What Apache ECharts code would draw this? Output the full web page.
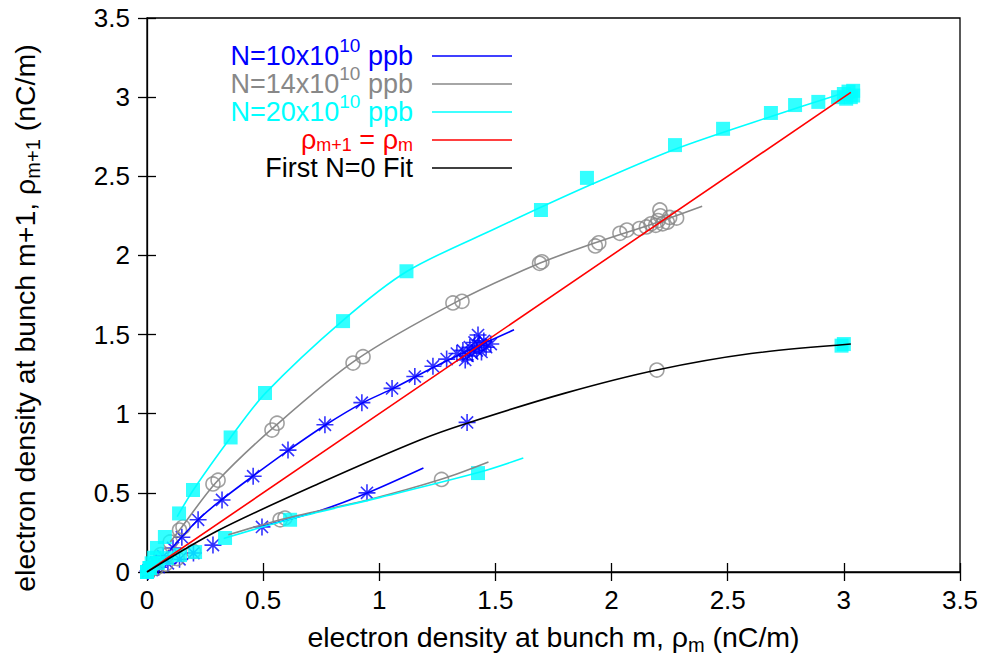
<!DOCTYPE html>
<html><head><meta charset="utf-8">
<script src="https://cdn.jsdelivr.net/npm/echarts@6/dist/echarts.min.js"></script>
<style>html,body{margin:0;padding:0;background:#fff}#c{width:987px;height:661px}</style>
</head><body><div id="c"></div><script>
// ---- tick labels ----
const xTickLabels = ['0','0.5','1','1.5','2','2.5','3','3.5'];
const yTickLabels = ['0','0.5','1','1.5','2','2.5','3','3.5'];

// ---- measured points [rho_m, rho_m+1] ----
const n10UpperPts = [[0.005,0.008],[0.02,0.03],[0.04,0.06],[0.07,0.1],[0.112,0.152],[0.15,0.22],[0.22,0.33],[0.323,0.455],[0.457,0.605],[0.607,0.77],[0.766,0.93],[0.925,1.07],[1.055,1.16],[1.153,1.235],[1.231,1.30],[1.29,1.345],[1.334,1.38],[1.36,1.40],[1.38,1.365],[1.39,1.42],[1.40,1.38],[1.41,1.45],[1.42,1.40],[1.425,1.497],[1.43,1.43],[1.44,1.39],[1.45,1.46],[1.46,1.42],[1.48,1.44],[1.37,1.34]];
const n10LowerPts = [[0.005,0.003],[0.02,0.012],[0.05,0.03],[0.09,0.055],[0.14,0.08],[0.2,0.12],[0.284,0.17],[0.495,0.285],[0.947,0.50],[1.378,0.945]];
const n14UpperPts = [[0.01,0.015],[0.03,0.05],[0.06,0.11],[0.1,0.19],[0.14,0.265],[0.155,0.285],[0.284,0.556],[0.306,0.58],[0.538,0.897],[0.56,0.94],[0.887,1.32],[0.93,1.36],[1.317,1.70],[1.356,1.71],[1.69,1.95],[1.70,1.96],[1.93,2.06],[1.945,2.08],[2.036,2.14],[2.066,2.16],[2.12,2.17],[2.15,2.18],[2.17,2.2],[2.19,2.19],[2.2,2.22],[2.21,2.25],[2.208,2.287],[2.22,2.2],[2.24,2.21],[2.25,2.24],[2.28,2.236]];
const n14LowerPts = [[0.01,0.006],[0.04,0.025],[0.08,0.05],[0.13,0.085],[0.2,0.13],[0.573,0.33],[0.594,0.341],[1.268,0.585],[2.195,1.276]];
const n20UpperPts = [[0,0],[0.01,0.025],[0.02,0.055],[0.03,0.09],[0.043,0.152],[0.077,0.221],[0.138,0.37],[0.198,0.518],[0.36,0.85],[0.508,1.131],[0.844,1.585],[1.117,1.90],[1.696,2.287],[1.894,2.49],[2.273,2.697],[2.48,2.80],[2.686,2.90],[2.79,2.95],[2.89,2.97],[2.975,3.0],[3.0,3.02],[3.02,3.035],[3.04,3.04],[3.03,3.0],[3.01,2.99],[3.04,3.01]];
const n20LowerPts = [[0,0],[0.013,0.025],[0.047,0.057],[0.086,0.088],[0.142,0.107],[0.207,0.126],[0.336,0.215],[0.616,0.33],[1.425,0.625],[2.99,1.43],[3.0,1.44]];

// ---- fitted curves ----
const n10UpperFit = [[0.1,0.14],[0.22,0.33],[0.32,0.455],[0.46,0.61],[0.61,0.77],[0.77,0.93],[0.93,1.07],[1.06,1.16],[1.23,1.29],[1.4,1.41],[1.58,1.53]];
const n10LowerFit = [[0.5,0.29],[0.75,0.39],[0.95,0.5],[1.19,0.657]];
const n14UpperFit = [[0.1,0.19],[0.15,0.285],[0.3,0.57],[0.55,0.92],[0.9,1.34],[1.33,1.705],[1.69,1.95],[1.95,2.09],[2.2,2.21],[2.39,2.31]];
const n14LowerFit = [[0.35,0.235],[0.6,0.34],[0.95,0.455],[1.27,0.587],[1.47,0.695]];
const n20UpperFit = [[0.13,0.35],[0.2,0.52],[0.36,0.85],[0.51,1.13],[0.84,1.585],[1.12,1.90],[1.5,2.17],[1.9,2.44],[2.27,2.67],[2.69,2.88],[3.03,3.04]];
const n20LowerFit = [[0.33,0.212],[0.62,0.335],[1.0,0.47],[1.43,0.63],[1.62,0.72]];
const equalLine = [[0,0],[3.03,3.03]];
const firstN0Fit = [[0,0],[0.31,0.265],[0.745,0.562],[1.175,0.834],[1.378,0.94],[1.8,1.13],[2.195,1.276],[2.6,1.38],[3.03,1.44]];

// ---- legend entries ----
const legendTexts = [
  '{t|N=10x10}{sup|10}{t| ppb}',
  '{t|N=14x10}{sup|10}{t| ppb}',
  '{t|N=20x10}{sup|10}{t| ppb}',
  '{t|ρ}{sub|m+1}{t| = ρ}{sub|m}',
  '{t|First N=0 Fit}'
];

const FONT = 'Liberation Sans';
const BLUE = '#0000ff', GRAY = '#888888', CYAN = '#00ffff', RED = '#ff0000', BLACK = '#000000';
const legendColors = [BLUE, GRAY, CYAN, RED, BLACK];
const ASTERISK = 'path://M8,0L8,16M0,8L16,8M2.3,2.3L13.7,13.7M13.7,2.3L2.3,13.7';

function richFor(color, lh){
  return {
    t: {color, fontSize: 27, fontFamily: FONT, lineHeight: lh},
    sup: {color, fontSize: 19, fontFamily: FONT, lineHeight: 20, verticalAlign: 'top'},
    sub: {color, fontSize: 18, fontFamily: FONT, lineHeight: 14, verticalAlign: 'bottom'}
  };
}

// legend layout (style only)
const LEG_TEXT_RIGHT = 413, LEG_LINE_X0 = 432, LEG_LINE_X1 = 512;
const legendRowY = [56, 84, 112, 140, 168];
const legendLineH = [40, 40, 40, 28, 22];
const legendGraphics = [];
legendTexts.forEach((txt, i) => {
  const y = legendRowY[i];
  legendGraphics.push({
    type: 'text', silent: true, z: 100,
    style: {text: txt, x: LEG_TEXT_RIGHT, y: y, align: 'right', verticalAlign: 'middle',
            fill: legendColors[i], font: '27px ' + FONT, rich: richFor(legendColors[i], legendLineH[i])}
  });
  legendGraphics.push({
    type: 'line', silent: true, z: 100,
    shape: {x1: LEG_LINE_X0, y1: y, x2: LEG_LINE_X1, y2: y},
    style: {stroke: legendColors[i], lineWidth: 1.6}
  });
});

function pts(name, data, sym, size, color, filled){
  return {
    name, type: 'scatter', data, symbol: sym, symbolSize: size, clip: false,
    itemStyle: filled ? {color} : {color: 'rgba(0,0,0,0)', borderColor: color, borderWidth: 1.6},
    emphasis: {disabled: true}, silent: true
  };
}
function fit(name, data, color, smooth){
  return {
    name, type: 'line', data, symbol: 'none', showSymbol: false, smooth: smooth,
    lineStyle: {color, width: 1.6}, itemStyle: {color}, emphasis: {disabled: true}, silent: true
  };
}

const axisCommon = {
  type: 'value', min: 0, max: 3.5, interval: 0.5,
  splitLine: {show: false},
  axisLine: {show: true, onZero: false, lineStyle: {color: '#000', width: 1.3}},
  axisTick: {show: true, inside: true, length: 9, lineStyle: {color: '#000', width: 1.3}}
};
const subRich = {s: {fontFamily: FONT, fontSize: 20, color: '#000', verticalAlign: 'bottom', lineHeight: 26}};

const chart = echarts.init(document.getElementById('c'), null, {renderer: 'svg'});
chart.setOption({
  backgroundColor: '#fff',
  animation: false,
  grid: {left: 147, right: 27, top: 18, bottom: 89, show: true, borderColor: '#000', borderWidth: 1.3, containLabel: false, outerBoundsMode: 'none'},
  graphic: legendGraphics,
  xAxis: [
    Object.assign({}, axisCommon, {
      position: 'bottom',
      name: 'electron density at bunch m, ρ{s|m} (nC/m)', nameLocation: 'middle', nameGap: 47,
      nameTextStyle: {fontFamily: FONT, fontSize: 28.5, color: '#000', rich: subRich, lineHeight: 36},
      axisLabel: {fontFamily: FONT, fontSize: 26, color: '#000', margin: 15, formatter: (v) => xTickLabels[Math.round(v / 0.5)]}
    }),
    Object.assign({}, axisCommon, {position: 'top', axisLine: {show: false}, axisLabel: {show: false}})
  ],
  yAxis: [
    Object.assign({}, axisCommon, {
      position: 'left',
      name: 'electron density at bunch m+1, ρ{s|m+1} (nC/m)', nameLocation: 'middle', nameGap: 104, nameRotate: 90,
      nameTextStyle: {fontFamily: FONT, fontSize: 28.5, color: '#000', rich: subRich, lineHeight: 36, padding: [0, 46, 0, 0]},
      axisLabel: {fontFamily: FONT, fontSize: 26, color: '#000', margin: 17, formatter: (v) => yTickLabels[Math.round(v / 0.5)]}
    }),
    Object.assign({}, axisCommon, {position: 'right', axisLine: {show: false}, axisLabel: {show: false}})
  ],
  series: [
    pts('n10up', n10UpperPts, ASTERISK, 17, BLUE, false),
    pts('n10lo', n10LowerPts, ASTERISK, 17, BLUE, false),
    pts('n14up', n14UpperPts, 'circle', 14, GRAY, false),
    pts('n14lo', n14LowerPts, 'circle', 14, GRAY, false),
    pts('n20up', n20UpperPts, 'rect', 14, CYAN, true),
    pts('n20lo', n20LowerPts, 'rect', 14, CYAN, true),
    fit('N10', n10UpperFit, BLUE, 0.3),
    fit('N10', n10LowerFit, BLUE, 0.3),
    fit('N14', n14UpperFit, GRAY, 0.3),
    fit('N14', n14LowerFit, GRAY, 0.3),
    fit('N20', n20UpperFit, CYAN, 0.3),
    fit('N20', n20LowerFit, CYAN, 0.3),
    fit('EQ', equalLine, RED, false),
    fit('FIT0', firstN0Fit, BLACK, 0.3)
  ]
});
</script></body></html>
